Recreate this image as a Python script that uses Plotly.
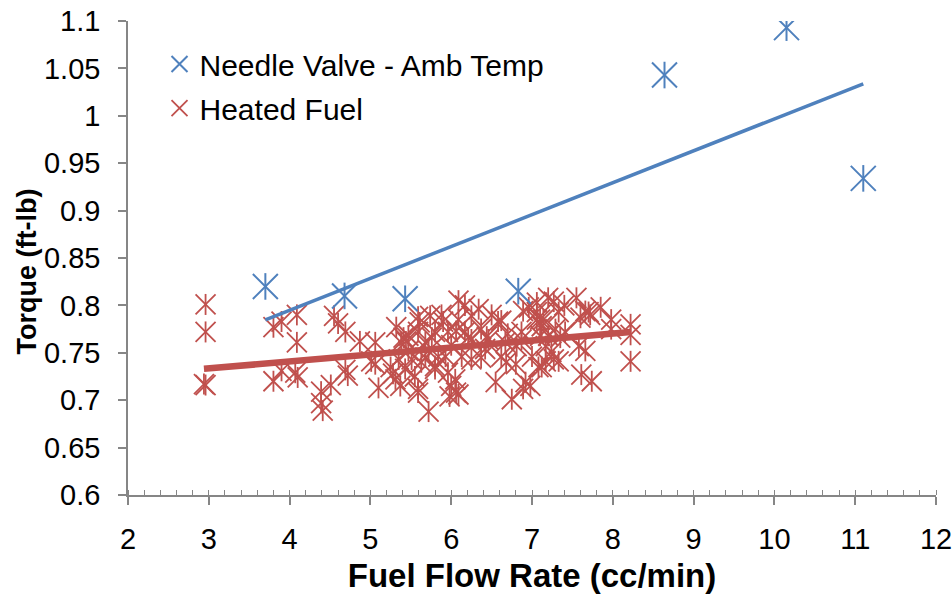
import numpy as np
import plotly.graph_objects as go

# ---- Data ----
needle_x = [3.70, 4.68, 5.43, 6.83, 8.64, 10.15, 11.10]
needle_y = [0.820, 0.810, 0.807, 0.815, 1.043, 1.093, 0.934]

heated_x = [
    2.96, 2.96, 2.94, 2.96,
    3.80, 3.90, 4.09, 4.09, 3.80, 3.90, 4.07, 4.10, 4.39, 4.39, 4.41, 4.51, 4.55, 4.60,
    4.69, 4.87, 5.06, 4.69, 4.72, 5.01, 5.10, 5.06, 5.32, 5.35, 5.25, 5.43, 5.41, 5.31,
    5.37, 5.44, 5.47, 5.38, 5.47, 5.51, 5.28,
    5.59, 5.61, 5.74, 5.88, 5.59, 5.80, 5.96, 5.68, 5.84, 5.63, 5.80, 5.68, 5.76, 5.80,
    5.59, 5.59, 5.72, 5.93, 5.96, 6.00, 6.06, 5.98, 6.09, 6.05, 6.09, 6.17, 6.09, 6.25,
    6.17, 6.13, 6.21, 6.25, 6.06, 6.25, 5.90, 6.00, 5.72, 5.55,
    6.34, 6.37, 6.44, 6.46, 6.37, 6.42, 6.55, 6.62, 6.58, 6.67, 6.62, 6.68, 6.81, 6.80,
    6.75, 6.87, 6.87, 6.89, 6.96, 6.89, 6.98, 6.92, 7.00, 7.06, 7.06, 7.06, 7.10, 7.12,
    7.08, 7.17, 7.17, 7.10, 6.50, 6.70,
    7.20, 7.27, 7.29, 7.35, 7.33, 7.14, 7.20, 7.41, 7.24, 7.27, 7.12, 7.33, 7.55, 7.66,
    7.72, 7.60, 7.58, 7.66, 7.61, 7.74, 7.85, 7.98, 7.98, 8.22, 8.22, 8.22, 7.70, 7.40,
]
heated_y = [
    0.801, 0.772, 0.717, 0.716,
    0.777, 0.783, 0.790, 0.761, 0.720, 0.731, 0.729, 0.724, 0.709, 0.697, 0.689, 0.716, 0.789, 0.781,
    0.772, 0.762, 0.761, 0.732, 0.726, 0.741, 0.713, 0.738, 0.777, 0.743, 0.735, 0.733, 0.766, 0.722,
    0.715, 0.762, 0.752, 0.761, 0.768, 0.743, 0.728,
    0.788, 0.782, 0.789, 0.790, 0.772, 0.772, 0.772, 0.761, 0.746, 0.740, 0.736, 0.745, 0.766, 0.733,
    0.712, 0.708, 0.688, 0.746, 0.729, 0.715, 0.708, 0.704, 0.706, 0.722, 0.805, 0.800, 0.785, 0.789,
    0.772, 0.746, 0.766, 0.743, 0.773, 0.764, 0.783, 0.758, 0.752, 0.725,
    0.796, 0.775, 0.767, 0.764, 0.745, 0.754, 0.719, 0.784, 0.783, 0.761, 0.746, 0.740, 0.757, 0.738,
    0.701, 0.764, 0.772, 0.794, 0.798, 0.712, 0.715, 0.719, 0.746, 0.803, 0.785, 0.793, 0.768, 0.778,
    0.735, 0.757, 0.741, 0.785, 0.790, 0.770,
    0.808, 0.804, 0.775, 0.766, 0.793, 0.785, 0.768, 0.772, 0.751, 0.743, 0.735, 0.741, 0.808, 0.794,
    0.790, 0.787, 0.757, 0.752, 0.727, 0.720, 0.798, 0.785, 0.775, 0.780, 0.769, 0.741, 0.793, 0.800,
]

x_ticks = [2, 3, 4, 5, 6, 7, 8, 9, 10, 11, 12]
y_ticks = [0.6, 0.65, 0.7, 0.75, 0.8, 0.85, 0.9, 0.95, 1.0, 1.05, 1.1]
y_tick_labels = ["0.6", "0.65", "0.7", "0.75", "0.8", "0.85", "0.9", "0.95", "1", "1.05", "1.1"]

BLUE = "#4F81BD"
RED = "#C0504D"
FONT = "Liberation Sans, Arial, sans-serif"


def linear_fit(xs, ys):
    xs = np.asarray(xs, float)
    ys = np.asarray(ys, float)
    m, b = np.polyfit(xs, ys, 1)
    xe = np.array([xs.min(), xs.max()])
    return xe, m * xe + b


fig = go.Figure()

# Heated fuel markers (X + vertical bar = Excel star)
fig.add_trace(go.Scatter(
    x=heated_x, y=heated_y, mode="markers", name="Heated Fuel",
    legendgroup="heated", legendrank=2,
    marker=dict(symbol="x-thin-open", size=20, color=RED, line=dict(color=RED, width=1.8)),
))
fig.add_trace(go.Scatter(
    x=heated_x, y=heated_y, mode="markers", showlegend=False, legendgroup="heated",
    marker=dict(symbol="line-ns-open", size=15, color=RED, line=dict(color=RED, width=1.8)),
    hoverinfo="skip",
))

# Needle valve markers
fig.add_trace(go.Scatter(
    x=needle_x, y=needle_y, mode="markers", name="Needle Valve - Amb Temp",
    legendgroup="needle", legendrank=1,
    marker=dict(symbol="x-thin-open", size=25, color=BLUE, line=dict(color=BLUE, width=2)),
))
fig.add_trace(go.Scatter(
    x=needle_x, y=needle_y, mode="markers", showlegend=False, legendgroup="needle",
    marker=dict(symbol="line-ns-open", size=19, color=BLUE, line=dict(color=BLUE, width=2)),
    hoverinfo="skip",
))

# Linear trendlines
tx, ty = linear_fit(heated_x, heated_y)
fig.add_trace(go.Scatter(x=tx, y=ty, mode="lines", showlegend=False,
                         line=dict(color=RED, width=6.5), hoverinfo="skip"))
tx, ty = linear_fit(needle_x, needle_y)
fig.add_trace(go.Scatter(x=tx, y=ty, mode="lines", showlegend=False,
                         line=dict(color=BLUE, width=3.5), hoverinfo="skip"))

axis_color = "#868686"
fig.update_layout(
    width=952, height=596,
    margin=dict(l=128, r=16, t=21, b=101),
    paper_bgcolor="white", plot_bgcolor="white",
    font=dict(family=FONT, size=28, color="black"),
    showlegend=True,
    legend=dict(x=0.039, y=0.964, xanchor="left", yanchor="top",
                font=dict(family=FONT, size=30, color="black"),
                bgcolor="rgba(0,0,0,0)", itemwidth=30, tracegroupgap=2),
    xaxis=dict(
        range=[2, 12], tickvals=x_ticks, ticktext=[str(v) for v in x_ticks],
        showgrid=False, zeroline=False, automargin=False,
        showline=True, linecolor=axis_color, linewidth=1.5,
        ticks="outside", ticklen=8, tickwidth=1.5, tickcolor=axis_color,
        minor=dict(dtick=0.2, tick0=2, ticks="inside", ticklen=5, tickwidth=1.2, tickcolor=axis_color),
        ticklabelstandoff=9, ticklabeloverflow="allow",
        tickfont=dict(family=FONT, size=29),
        title=dict(text="<b>Fuel Flow Rate (cc/min)</b>", font=dict(family=FONT, size=33), standoff=10),
    ),
    yaxis=dict(
        range=[0.6, 1.1], tickvals=y_ticks, ticktext=y_tick_labels,
        showgrid=False, zeroline=False, automargin=False,
        showline=True, linecolor=axis_color, linewidth=1.5,
        ticks="outside", ticklen=8, tickwidth=1.5, tickcolor=axis_color,
        ticklabelstandoff=12, ticklabeloverflow="allow",
        tickfont=dict(family=FONT, size=29),
    ),
    annotations=[dict(
        text="<b>Torque (ft-lb)</b>", textangle=-90, showarrow=False,
        xref="paper", yref="paper", x=-0.125, y=0.4716,
        xanchor="center", yanchor="middle",
        font=dict(family=FONT, size=27, color="black"),
    )],
)

fig.write_html("out.html")
